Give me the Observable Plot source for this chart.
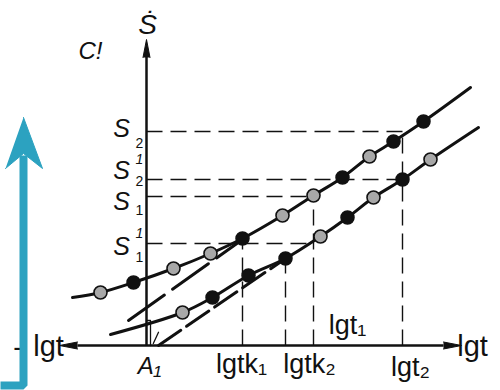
<!DOCTYPE html>
<html><head><meta charset="utf-8">
<script src="https://cdn.jsdelivr.net/npm/d3@7"></script>
<script src="https://cdn.jsdelivr.net/npm/@observablehq/plot@0.6"></script>
<style>
html,body{margin:0;padding:0;background:#fff;}
#chart svg{display:block}
g[aria-label="tlabels"] text, g[aria-label="axislabels"] text {letter-spacing:1.5px}
</style></head><body><div id="chart"></div>
<script>
// S levels on the vertical axis
const sNames = ["S2", "S2'", "S1", "S1'"];
const sValues = [5.35, 4.15, 3.725, 2.55];
const sReachT = [6.4, 6.4, 4.175, 4.175];
// lg t marks on the horizontal axis
const tNames = ["lgtk₁", "lgtk₂", "lgt₁", "lgt₂"];
const tValues = [2.4, 3.475, 4.175, 6.4];
const tReachS = [2.55, 2.175, 3.725, 5.35];
// upper curve (knots and measured points)
const upperT = [-1.85, -1.15, -0.325, 0.675, 1.6, 2.4, 3.4, 4.175, 4.9, 5.575, 6.175, 6.925, 8.1];
const upperS = [1.2, 1.325, 1.575, 1.925, 2.3, 2.675, 3.25, 3.75, 4.2, 4.725, 5.1, 5.6, 6.45];
const upperKind = ["none","open","solid","open","open","solid","open","open","solid","open","solid","solid","none"];
// lower curve
const lowerT = [-0.9, 0.9, 1.65, 2.55, 3.475, 4.35, 5.025, 5.675, 6.4, 7.1, 8.3];
const lowerS = [0.275, 0.825, 1.2, 1.75, 2.175, 2.725, 3.2, 3.7, 4.15, 4.65, 5.45];
const lowerKind = ["none","open","solid","solid","solid","open","solid","open","solid","open","none"];
// extrapolated straight parts (dashed)
const upperExtT = [-0.45, 2.4], upperExtS = [0.625, 2.65];
const lowerExtT = [0.3, 3.475], lowerExtS = [0, 2.175];
// axes extents
const axisT = [-1.725, 7.425], axisS = [0, 7.5];
// blue marker arrow
const blueT = [-3.65, -3.075, -3.075], blueS = [-1.0, -1.0, 4.75];
const blueHeadT = [-3.075, -2.6, -3.075, -3.525], blueHeadS = [5.7, 4.425, 4.8, 4.425];

const zip = (xs, ys, ks) => xs.map((x, i) => ({x, y: ys[i], k: ks ? ks[i] : null}));
const upper = zip(upperT, upperS, upperKind);
const lower = zip(lowerT, lowerS, lowerKind);
const pts = upper.concat(lower).filter(d => d.k !== "none");
const hLinks = sValues.map((v, i) => ({x1: 0, x2: sReachT[i], y: v}));
const vLinks = tValues.map((t, i) => ({x: t, y1: 0, y2: tReachS[i]}));

const SF = "Liberation Sans, DejaVu Sans, sans-serif";
const marks = [];

// dashed guide lines
marks.push(Plot.link(hLinks, {x1: "x1", x2: "x2", y1: "y", y2: "y", stroke: "#111", strokeWidth: 1.4, strokeDasharray: "16,8"}));
marks.push(Plot.link(vLinks, {x1: "x", x2: "x", y1: "y1", y2: "y2", stroke: "#111", strokeWidth: 1.4, strokeDasharray: "16,8"}));

// axes
marks.push(Plot.link([{a: axisT[0], b: axisT[1]}], {x1: "a", x2: "b", y1: 0, y2: 0, stroke: "#111", strokeWidth: 2.5}));
marks.push(Plot.link([{a: axisS[0], b: axisS[1] - 0.2}], {x1: 0, x2: 0, y1: "a", y2: "b", stroke: "#111", strokeWidth: 2.5}));
marks.push(Plot.vector([{x: axisT[1], y: 0, r: 90}, {x: axisT[0], y: 0, r: -90}, {x: 0, y: axisS[1] - 0.3, r: 0}],
  {x: "x", y: "y", rotate: "r", length: 18, r: 3.5, shape: "spike", anchor: "start", fill: "#111", stroke: "#111", strokeWidth: 1}));

// small intercept marks at origin
marks.push(Plot.line([{x: 0, y: 0.625}, {x: 0.1, y: 0.625}, {x: 0.1, y: 0}], {x: "x", y: "y", stroke: "#111", strokeWidth: 1.3}));
marks.push(Plot.line([{x: 0.17, y: 0.05}, {x: 0.3, y: 0.33}], {x: "x", y: "y", stroke: "#111", strokeWidth: 1.3}));

// extrapolation dashes
marks.push(Plot.line(zip(upperExtT, upperExtS), {x: "x", y: "y", stroke: "#111", strokeWidth: 3, strokeDasharray: "44,10"}));
marks.push(Plot.line(zip(lowerExtT, lowerExtS), {x: "x", y: "y", stroke: "#111", strokeWidth: 3, strokeDasharray: "27,7"}));

// curves
marks.push(Plot.line(upper, {x: "x", y: "y", curve: "catmull-rom", stroke: "#111", strokeWidth: 3}));
marks.push(Plot.line(lower, {x: "x", y: "y", curve: "catmull-rom", stroke: "#111", strokeWidth: 3}));

// points
marks.push(Plot.dot(pts.filter(d => d.k === "open"), {x: "x", y: "y", r: 6.5, fill: "#a8a8a8", stroke: "#111", strokeWidth: 1.6}));
marks.push(Plot.dot(pts.filter(d => d.k === "solid"), {x: "x", y: "y", r: 6.5, fill: "#111", stroke: "#111"}));

// S labels
const sOff = [
  {dx: -25, dy: -3, supDx: 0, supDy: 0, subDx: -7, subDy: 12},
  {dx: -25, dy: -9, supDx: -7, supDy: -20, subDx: -7, subDy: 2},
  {dx: -25, dy: 5, supDx: 0, supDy: 0, subDx: -7, subDy: 14},
  {dx: -25, dy: 3, supDx: -7, supDy: -10, subDx: -7, subDy: 14}
];
sNames.forEach((name, i) => {
  const o = sOff[i];
  const d = [{x: 0, y: sValues[i]}];
  marks.push(Plot.text(d, {x: "x", y: "y", text: () => name[0], dx: o.dx, dy: o.dy, fontSize: 25, fontStyle: "italic", fontFamily: SF, fill: "#111"}));
  marks.push(Plot.text(d, {x: "x", y: "y", text: () => name[1], dx: o.subDx, dy: o.subDy, fontSize: 14, fontFamily: SF, fill: "#111"}));
  if (name.includes("'")) marks.push(Plot.text(d, {x: "x", y: "y", text: () => "1", dx: o.supDx, dy: o.supDy, fontSize: 14, fontStyle: "italic", fontFamily: SF, fill: "#111"}));
});

// lg t labels
const tOff = [{dx: -1, dy: 27}, {dx: 24, dy: 27}, {dx: 34, dy: -12}, {dx: 8, dy: 30}];
tNames.forEach((name, i) => {
  marks.push(Plot.text([{x: tValues[i], y: 0}], {x: "x", y: "y", text: () => name, dx: tOff[i].dx, dy: tOff[i].dy, lineAnchor: "bottom", fontSize: 27, fontFamily: SF, fill: "#111", ariaLabel: "tlabels"}));
});
marks.push(Plot.text([{x: 0, y: 0}], {x: "x", y: "y", text: () => "A₁", dx: 3, dy: 28, lineAnchor: "bottom", fontSize: 24, fontStyle: "italic", fontFamily: SF, fill: "#111"}));

// axis names
marks.push(Plot.text([{x: 8.15, y: 0, t: "lgt"}, {x: -2.45, y: 0, t: "lgt"}], {x: "x", y: "y", text: "t", dy: 10, lineAnchor: "bottom", fontSize: 29, fontFamily: SF, fill: "#111", ariaLabel: "axislabels"}));
marks.push(Plot.text([{x: -3.22, y: 0}], {x: "x", y: "y", text: () => "-", dy: 10, lineAnchor: "bottom", fontSize: 27, fontFamily: SF, fill: "#111"}));
marks.push(Plot.text([{x: 0.025, y: 8.0}], {x: "x", y: "y", text: () => "Ṡ", fontSize: 28, fontStyle: "italic", fontFamily: SF, fill: "#111"}));
marks.push(Plot.text([{x: -1.4, y: 7.35}], {x: "x", y: "y", text: () => "C!", fontSize: 24, fontStyle: "italic", fontFamily: SF, fill: "#111"}));

// blue marker
marks.push(Plot.line(zip(blueT, blueS), {x: "x", y: "y", stroke: "#2ca2c0", strokeWidth: 8, strokeLinejoin: "miter", strokeLinecap: "butt"}));
marks.push(Plot.line(zip(blueHeadT, blueHeadS), {x: "x", y: "y", fill: "#2ca2c0", stroke: "#2ca2c0", strokeWidth: 1}));

const chart = Plot.plot({
  width: 500, height: 390, margin: 0,
  x: {domain: [-3.65, 8.85], axis: null},
  y: {domain: [-1.125, 8.625], axis: null},
  style: {background: "white", overflow: "visible"},
  marks
});
document.getElementById("chart").appendChild(chart);
</script></body></html>
